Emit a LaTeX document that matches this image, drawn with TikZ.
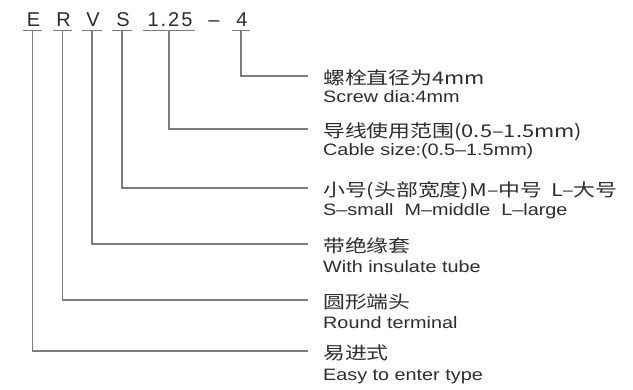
\documentclass[tikz,border=0pt]{standalone}
\usepackage{fontspec}
\newfontfamily\codefont[LetterSpace=10]{Liberation Sans}
\newfontfamily\enfont[FakeStretch=1.2]{Liberation Sans}
\newfontfamily\zhfont[FakeStretch=1.25]{Noto Sans CJK SC}
\definecolor{txt}{RGB}{45,45,45}
\definecolor{lin}{RGB}{125,125,125}
\tikzset{
  codelbl/.style={font=\codefont\fontsize{20}{20}\selectfont, text=txt, inner sep=0pt, text depth=4pt, anchor=base},
  ul/.style={draw=lin, line width=1.1pt},
  conn/.style={draw=lin, line width=1.1pt},
  zhlbl/.style={font=\zhfont\fontsize{17.5}{17.5}\selectfont, text=txt, inner sep=0pt, anchor=base west},
  enlbl/.style={font=\enfont\fontsize{16.5}{16.5}\selectfont, text=txt, inner sep=0pt, anchor=base west}
}
\begin{document}
\begin{tikzpicture}[x=1pt,y=-1pt]
\useasboundingbox[fill=white] (0,0) rectangle (633,389);
% code letters
\node[codelbl, minimum width=19pt] (cE) at (33.5,26) {E};
\node[codelbl, minimum width=18pt] (cR) at (63.5,26) {R};
\node[codelbl, minimum width=19pt] (cV) at (93,26) {V};
\node[codelbl, minimum width=19pt] (cS) at (123,26) {S};
\node[codelbl, minimum width=52pt] (cN) at (170,26) {1.25};
\node[codelbl] (cD) at (214,26) {–};
\node[codelbl, minimum width=17pt] (cF) at (242,26) {4};
\foreach \n in {cE,cR,cV,cS,cN,cF}{\draw[ul] ([xshift=-1pt]\n.south west) -- ([xshift=-1pt]\n.south east);}
% connector ends
\coordinate (t1) at (308,76);
\coordinate (t2) at (308,129);
\coordinate (t3) at (308,188);
\coordinate (t4) at (308,244);
\coordinate (t5) at (308,300);
\coordinate (t6) at (308,351);
% descriptions
\node[zhlbl] (z1) at (323,84) {螺栓直径为4mm};
\node[enlbl] (e1) at (323,102) {Screw dia:4mm};
\node[zhlbl] (z2) at (323,137) {导线使用范围(0.5–1.5mm)};
\node[enlbl] (e2) at (323,155) {Cable size:(0.5–1.5mm)};
\node[zhlbl] (z3) at (323,196) {小号(头部宽度)M–中号\hspace{9pt}L–大号};
\node[enlbl] (e3) at (323,215) {S–small\ \ M–middle\ \ L–large};
\node[zhlbl] (z4) at (323,252) {带绝缘套};
\node[enlbl] (e4) at (323,272) {With insulate tube};
\node[zhlbl] (z5) at (323,308) {圆形端头};
\node[enlbl] (e5) at (323,328) {Round terminal};
\node[zhlbl] (z6) at (323,359) {易进式};
\node[enlbl] (e6) at (323,380) {Easy to enter type};
% connectors
\draw[conn] ([xshift=-1pt]cF.south) |- (t1);
\draw[conn] ([xshift=-1pt]cN.south) |- (t2);
\draw[conn] ([xshift=-1pt]cS.south) |- (t3);
\draw[conn] ([xshift=-1pt]cV.south) |- (t4);
\draw[conn] ([xshift=-1pt]cR.south) |- (t5);
\draw[conn] ([xshift=-1pt]cE.south) |- (t6);
\end{tikzpicture}
\end{document}
